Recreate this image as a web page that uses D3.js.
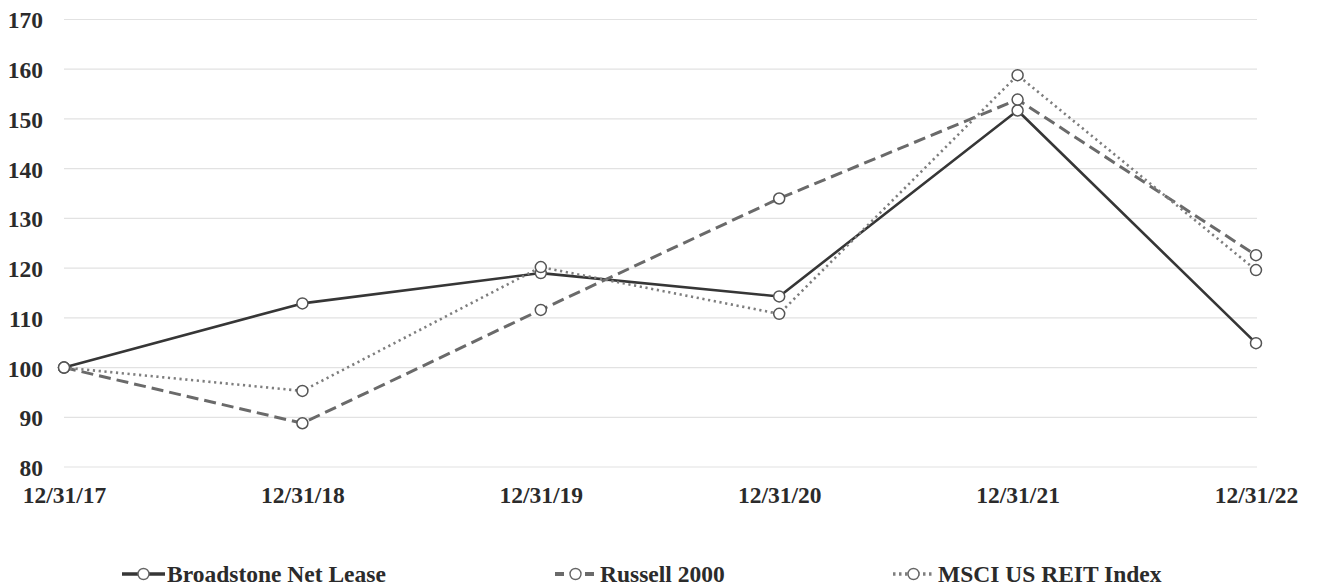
<!DOCTYPE html>
<html>
<head>
<meta charset="utf-8">
<script src="https://cdn.jsdelivr.net/npm/d3@7"></script>
<style>
html,body{margin:0;padding:0;background:#fff;}
svg{display:block;}
text{font-family:"Liberation Serif","Times New Roman",serif;font-weight:bold;fill:#2b2b2b;}
</style>
</head>
<body>
<svg id="chart" width="1317" height="587"></svg>
<script>
const categories = ["12/31/17","12/31/18","12/31/19","12/31/20","12/31/21","12/31/22"];
const broadstone = [100, 112.9, 119.0, 114.3, 151.7, 104.9];
const russell = [100, 88.8, 111.6, 134.0, 153.9, 122.6];
const msci = [100, 95.3, 120.2, 110.8, 158.8, 119.6];
const yTicks = [80, 90, 100, 110, 120, 130, 140, 150, 160, 170];
const seriesNames = ["Broadstone Net Lease", "Russell 2000", "MSCI US REIT Index"];

const series = [
  {name: seriesNames[0], values: broadstone, color: "#363636", width: 2.6, dash: null},
  {name: seriesNames[1], values: russell, color: "#6a6a6a", width: 3, dash: "12,6"},
  {name: seriesNames[2], values: msci, color: "#7e7e7e", width: 2.6, dash: "2.2,3.6"}
];

const FS = 23.5;
const svg = d3.select("#chart");
const x = d3.scalePoint().domain(categories).range([64, 1256]);
const y = d3.scaleLinear().domain([80, 170]).range([467, 19.5]);

// gridlines
svg.append("g").selectAll("line").data(yTicks).join("line")
  .attr("x1", 64).attr("x2", 1257)
  .attr("y1", d => y(d)).attr("y2", d => y(d))
  .attr("stroke", "#e2e2e2").attr("stroke-width", 1.2);

// y axis labels
const yAxis = d3.axisLeft(y).tickValues(yTicks).tickSize(0).tickPadding(0);
const gy = svg.append("g").attr("transform", "translate(43,0)").call(yAxis);
gy.select(".domain").remove();
gy.selectAll("text").attr("font-size", FS).attr("dy", "0.36em")
  .style("font-family", "'Liberation Serif', serif").style("font-weight", "bold").attr("fill", "#2b2b2b");

// x axis labels
const xAxis = d3.axisBottom(x).tickSize(0).tickPadding(0);
const gx = svg.append("g").attr("transform", "translate(0,486)").call(xAxis);
gx.select(".domain").remove();
gx.selectAll("text").attr("font-size", FS).attr("dy", "0.71em")
  .style("font-family", "'Liberation Serif', serif").style("font-weight", "bold").attr("fill", "#2b2b2b");

// lines
const line = d3.line().x((d, i) => x(categories[i])).y(d => y(d));
series.forEach(s => {
  svg.append("path").datum(s.values)
    .attr("d", line).attr("fill", "none")
    .attr("stroke", s.color).attr("stroke-width", s.width)
    .attr("stroke-dasharray", s.dash)
    .attr("stroke-linejoin", "round");
});
series.forEach(s => {
  svg.append("g").selectAll("circle").data(s.values).join("circle")
    .attr("cx", (d, i) => x(categories[i])).attr("cy", d => y(d))
    .attr("r", 5.5).attr("fill", "#fff")
    .attr("stroke", "#555").attr("stroke-width", 1.5);
});

// legend
const legendItems = [
  {s: series[0], x0: 122, x1: 165, tx: 167, dash: null},
  {s: series[1], x0: 555, x1: 596, tx: 600, dash: "9,6"},
  {s: series[2], x0: 893, x1: 934, tx: 938, dash: "2.5,3.5"}
];
const ly = 574;
legendItems.forEach(it => {
  const g = svg.append("g");
  g.append("line").attr("x1", it.x0).attr("x2", it.x1).attr("y1", ly).attr("y2", ly)
    .attr("stroke", it.s.color).attr("stroke-width", it.s.width + 0.8)
    .attr("stroke-dasharray", it.dash);
  g.append("circle").attr("cx", (it.x0 + it.x1) / 2).attr("cy", ly).attr("r", 5.5)
    .attr("fill", "#fff").attr("stroke", "#666").attr("stroke-width", 1.4);
  g.append("text").attr("x", it.tx).attr("y", 582)
    .attr("font-size", FS).text(it.s.name);
});
</script>
</body>
</html>
